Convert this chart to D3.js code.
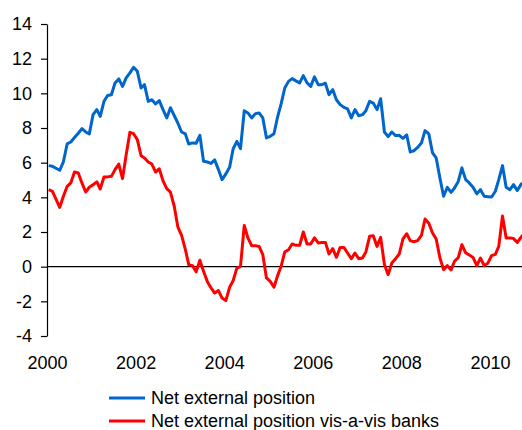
<!DOCTYPE html>
<html>
<head>
<meta charset="utf-8">
<script src="https://cdn.jsdelivr.net/npm/d3@7"></script>
<style>
body { margin: 0; background: #fff; }
svg { display: block; font-family: "Liberation Sans", Arial, sans-serif; }
</style>
</head>
<body>
<svg id="canvas"></svg>
<script>
var width = 522
var height = 430

var yTicks = [-4, -2, 0, 2, 4, 6, 8, 10, 12, 14]
var seriesNames = ["Net external position", "Net external position vis-a-vis banks"]
var seriesColors = ["#0066cc", "#ff0000"]

// monthly values, Jan 2000 onwards
var netExternal = [
5.83, 5.79, 5.68, 5.56, 6.04, 7.08, 7.19, 7.45, 7.7, 7.96, 7.77, 7.66,
8.77, 9.06, 8.67, 9.54, 9.88, 9.92, 10.6, 10.83, 10.4, 10.89, 11.18, 11.5,
11.27, 10.31, 10.5, 9.54, 9.63, 9.39, 9.58, 9.06, 8.58, 9.17, 8.72, 8.29,
7.77, 7.66, 7.08, 7.14, 7.12, 7.58, 6.08, 6.04, 5.96, 6.16, 5.6, 5.02,
5.35, 5.73, 6.79, 7.23, 6.81, 9.0, 8.87, 8.58, 8.83, 8.87, 8.58, 7.43,
7.52, 7.67, 8.58, 9.39, 10.31, 10.69, 10.85, 10.72, 10.6, 11.02, 10.6, 10.4,
10.95, 10.5, 10.5, 10.58, 9.92, 10.21, 9.63, 9.35, 9.19, 9.1, 8.58, 9.06,
8.71, 8.77, 9.0, 9.54, 9.44, 9.06, 9.69, 7.77, 7.5, 7.77, 7.56, 7.58,
7.4, 7.6, 6.62, 6.69, 6.88, 7.13, 7.85, 7.66, 6.56, 6.27, 5.1, 4.06,
4.58, 4.29, 4.54, 4.92, 5.7, 5.02, 4.83, 4.58, 4.2, 4.44, 4.06, 4.04,
4.02, 4.35, 5.02, 5.83, 4.58, 4.44, 4.73, 4.39, 4.75, 4.9
]

var netBanks = [
4.44, 4.35, 3.9, 3.42, 4.06, 4.63, 4.83, 5.46, 5.4, 4.83, 4.31, 4.58,
4.73, 4.89, 4.48, 5.18, 5.18, 5.21, 5.6, 5.92, 5.08, 6.46, 7.75, 7.67,
7.33, 6.4, 6.27, 6.04, 5.92, 5.46, 5.65, 4.95, 4.5, 4.3, 3.5, 2.3,
1.8, 1.0, 0.12, 0.06, -0.3, 0.37, -0.27, -0.85, -1.23, -1.52, -1.38, -1.81,
-1.96, -1.19, -0.81, -0.08, 0.02, 2.38, 1.66, 1.21, 1.21, 1.17, 0.69, -0.65,
-0.85, -1.19, -0.56, 0.02, 0.85, 0.98, 1.31, 1.23, 1.23, 2.0, 1.31, 1.31,
1.66, 1.37, 1.4, 1.4, 0.73, 1.04, 0.54, 1.11, 1.11, 0.79, 0.46, 0.79,
0.46, 0.5, 0.85, 1.75, 1.79, 1.17, 1.69, 0.12, -0.46, 0.21, 0.46, 0.73,
1.6, 1.9, 1.5, 1.44, 1.5, 1.8, 2.75, 2.5, 1.94, 1.6, 0.5, -0.17,
0.06, -0.19, 0.31, 0.52, 1.27, 0.8, 0.67, 0.53, 0.06, 0.5, 0.06, 0.2,
0.64, 0.71, 1.17, 2.92, 1.66, 1.66, 1.62, 1.4, 1.7, 1.95
]

var startMonth = new Date(2000, 0, 15)
var dates = netExternal.map(function(d, i){
	return d3.timeMonth.offset(startMonth, i)
})

var svg = d3.select("#canvas")
	.attr("width", width)
	.attr("height", height)

var x = d3.scaleTime()
	.domain([new Date(2000, 0, 1), new Date(2010, 9, 1)])
	.range([47, 523])

var y = d3.scaleLinear()
	.domain([-4, 14])
	.range([336, 24])

var yAxis = svg.append("g")
	.attr("transform", "translate(47,0)")
	.call(d3.axisLeft(y).tickValues(yTicks).tickSize(6).tickPadding(9).tickSizeOuter(0)
		.tickFormat(function(d){ return String(d) }))

yAxis.select(".domain").attr("stroke", "#000").attr("stroke-width", 1.2)
yAxis.selectAll(".tick line").attr("stroke", "#000").attr("stroke-width", 1.2)
yAxis.selectAll("text")
	.attr("font-size", 18)
	.attr("font-family", "Liberation Sans, Arial, sans-serif")
	.attr("fill", "#000")

var xAxis = svg.append("g")
	.attr("transform", "translate(0,353)")
	.call(d3.axisBottom(x).ticks(d3.timeYear.every(2)).tickFormat(d3.timeFormat("%Y")).tickSize(0).tickPadding(3))

xAxis.select(".domain").remove()
xAxis.selectAll("text")
	.attr("font-size", 18)
	.attr("font-family", "Liberation Sans, Arial, sans-serif")
	.attr("fill", "#000")

svg.append("line")
	.attr("x1", x.range()[0])
	.attr("x2", width)
	.attr("y1", y(0))
	.attr("y2", y(0))
	.attr("stroke", "#000")
	.attr("stroke-width", 1.2)

var line = d3.line()
	.x(function(d){ return x(d[0]) })
	.y(function(d){ return y(d[1]) })

var lineData = [
	dates.map(function(d, i){ return [d, netExternal[i]] }),
	dates.map(function(d, i){ return [d, netBanks[i]] })
]

svg.selectAll("path.series")
	.data(lineData)
	.join("path")
	.attr("class", "series")
	.attr("d", line)
	.attr("fill", "none")
	.attr("stroke", function(d, i){ return seriesColors[i] })
	.attr("stroke-width", 3)
	.attr("stroke-linejoin", "round")

var legend = svg.selectAll("g.legend")
	.data(seriesNames)
	.join("g")
	.attr("class", "legend")
	.attr("transform", function(d, i){ return "translate(109," + (398 + i * 23) + ")" })

legend.append("line")
	.attr("x1", 0)
	.attr("x2", 36)
	.attr("stroke", function(d, i){ return seriesColors[i] })
	.attr("stroke-width", 3)

legend.append("text")
	.attr("x", 42)
	.attr("y", 6)
	.attr("font-size", 18)
	.attr("fill", "#000")
	.text(function(d){ return d })
</script>
</body>
</html>
